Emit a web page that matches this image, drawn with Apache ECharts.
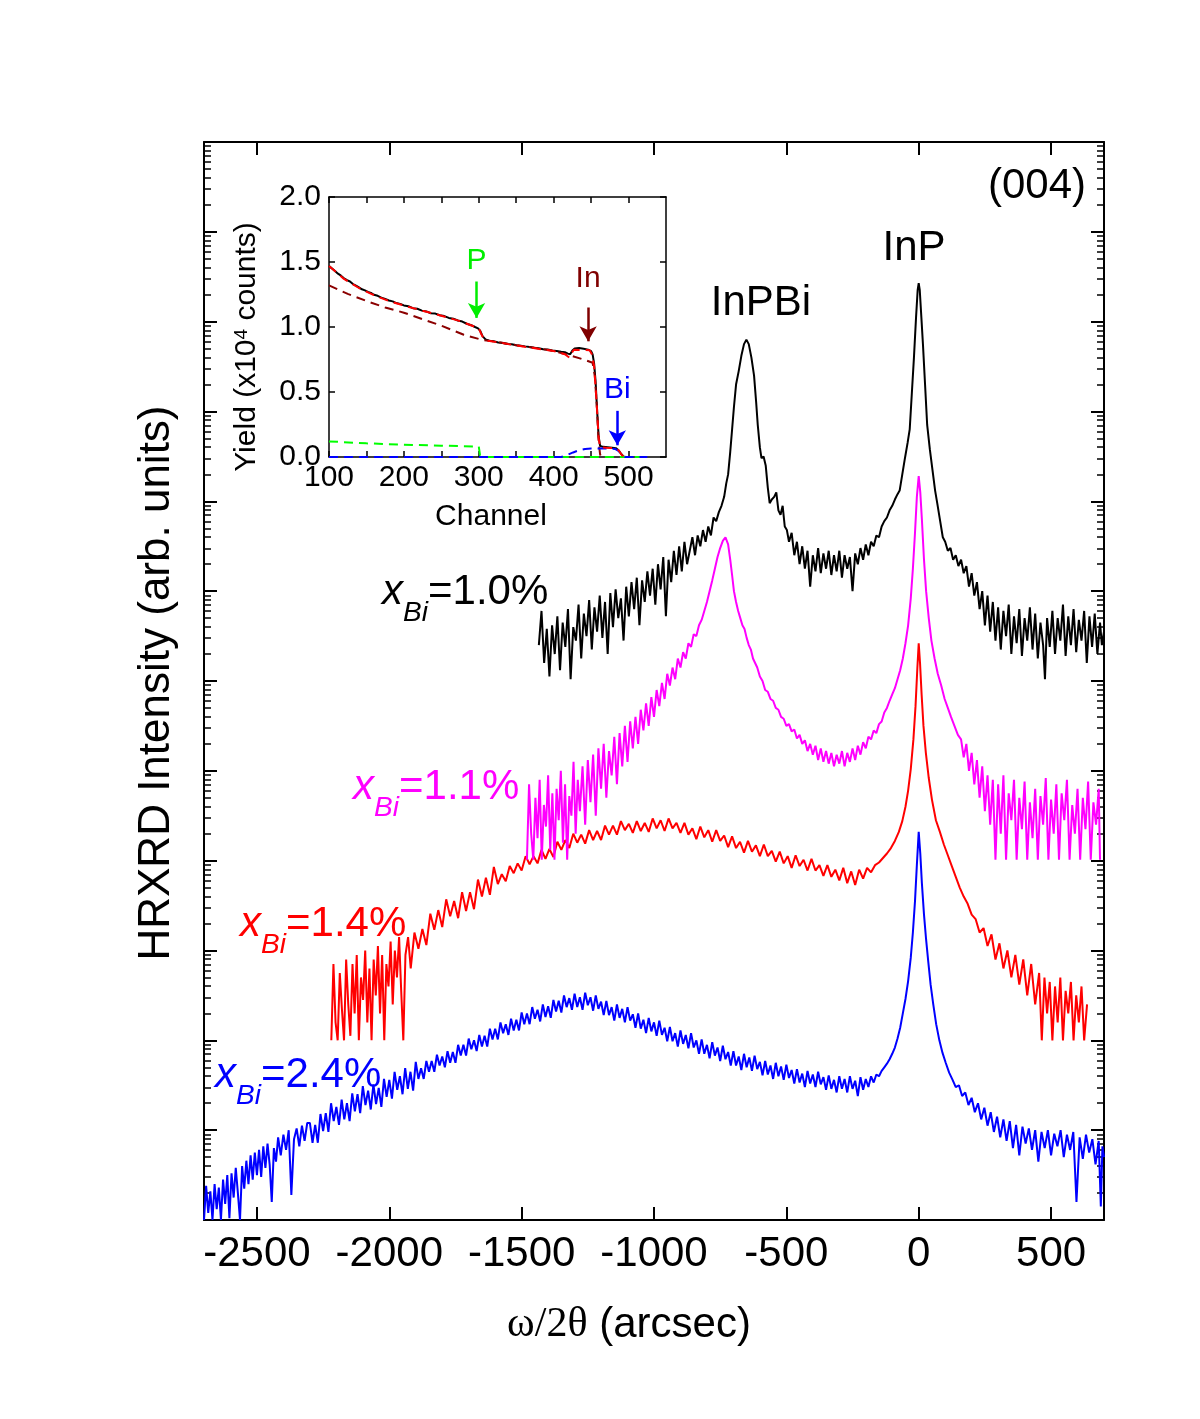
<!DOCTYPE html>
<html>
<head>
<meta charset="utf-8">
<script src="https://cdn.jsdelivr.net/npm/echarts@6/dist/echarts.min.js"></script>
<style>
  html, body { margin: 0; padding: 0; background: #fff; }
  #chart { width: 1200px; height: 1419px; }
</style>
</head>
<body>
<div id="chart"></div>
<script>
// ---- main panel: HRXRD (004) scans, [omega/2theta arcsec, log10 intensity] ----
var xTicks = [-2500, -2000, -1500, -1000, -500, 0, 500];
var decadeTicks = [0, 1, 2, 3, 4, 5, 6, 7, 8, 9, 10, 11, 12];

var scanBi10 = [[-1435,6.40],[-1425,6.78],[-1415,6.20],[-1405,6.58],[-1395,6.05],[-1385,6.62],[-1375,6.30],[-1365,6.72],[-1355,6.12],[-1345,6.65],[-1335,6.38],[-1325,6.80],[-1315,6.02],[-1305,6.60],[-1295,6.45],[-1285,6.85],[-1275,6.25],[-1265,6.75],[-1255,6.50],[-1245,6.90],[-1235,6.35],[-1225,6.82],[-1215,6.55],[-1205,6.95],[-1195,6.48],[-1185,6.88],[-1175,6.30],[-1165,6.98],[-1155,6.60],[-1145,7.02],[-1135,6.70],[-1125,6.92],[-1115,6.45],[-1105,7.05],[-1095,6.72],[-1085,7.10],[-1075,6.80],[-1065,7.15],[-1055,6.62],[-1045,7.12],[-1035,6.88],[-1025,7.22],[-1015,6.95],[-1005,7.25],[-995,6.85],[-985,7.30],[-975,7.02],[-965,7.38],[-955,6.72],[-945,7.35],[-935,7.10],[-925,7.45],[-915,7.18],[-905,7.50],[-895,7.22],[-885,7.55],[-875,7.30],[-865,7.45],[-855,7.60],[-845,7.40],[-835,7.62],[-825,7.50],[-815,7.68],[-805,7.55],[-795,7.72],[-785,7.62],[-775,7.82],[-765,7.78],[-755,7.88],[-745,7.95],[-735,8.05],[-727,8.20],[-720,8.30],[-712,8.55],[-705,8.80],[-698,9.05],[-690,9.30],[-680,9.45],[-670,9.62],[-660,9.75],[-651,9.80],[-642,9.75],[-632,9.60],[-622,9.40],[-614,9.10],[-608,8.85],[-600,8.60],[-594,8.48],[-586,8.50],[-578,8.40],[-570,8.15],[-563,7.98],[-555,8.02],[-546,8.05],[-538,8.10],[-530,7.90],[-522,7.85],[-514,7.95],[-506,7.72],[-498,7.68],[-490,7.55],[-480,7.65],[-470,7.40],[-460,7.55],[-450,7.30],[-440,7.50],[-430,7.25],[-420,7.45],[-410,7.05],[-400,7.40],[-390,7.22],[-380,7.48],[-370,7.20],[-360,7.42],[-350,7.25],[-340,7.45],[-330,7.18],[-320,7.40],[-310,7.22],[-300,7.45],[-290,7.15],[-280,7.40],[-270,7.25],[-260,7.38],[-250,7.00],[-240,7.42],[-230,7.30],[-220,7.48],[-210,7.35],[-200,7.52],[-190,7.40],[-180,7.55],[-170,7.50],[-160,7.62],[-150,7.60],[-140,7.72],[-130,7.78],[-120,7.82],[-110,7.90],[-100,7.95],[-90,8.02],[-80,8.08],[-72,8.12],[-62,8.30],[-52,8.48],[-42,8.65],[-34,8.80],[-26,9.20],[-18,9.60],[-10,10.05],[-4,10.35],[0,10.43],[4,10.35],[10,10.05],[16,9.75],[24,9.30],[32,8.85],[42,8.58],[52,8.35],[62,8.12],[70,7.98],[80,7.80],[91,7.60],[100,7.55],[110,7.45],[120,7.48],[130,7.35],[140,7.40],[150,7.28],[160,7.35],[170,7.20],[180,7.28],[190,7.05],[200,7.20],[210,6.95],[220,7.10],[230,6.80],[240,7.00],[250,6.62],[260,6.95],[270,6.55],[280,6.88],[290,6.45],[300,6.82],[310,6.35],[320,6.78],[330,6.50],[340,6.85],[350,6.30],[360,6.72],[370,6.42],[380,6.80],[390,6.28],[400,6.70],[410,6.45],[420,6.82],[430,6.35],[440,6.75],[450,6.25],[460,6.65],[470,6.40],[477,6.02],[485,6.70],[495,6.38],[505,6.78],[515,6.30],[525,6.70],[535,6.45],[545,6.85],[555,6.28],[565,6.72],[575,6.40],[585,6.80],[595,6.32],[605,6.68],[615,6.45],[625,6.78],[635,6.20],[645,6.72],[655,6.38],[665,6.75],[675,6.30],[685,6.65],[692,6.40],[700,6.55]];

var scanBi11 = [[-1480,4.01],[-1472,4.85],[-1464,4.30],[-1456,4.01],[-1448,4.70],[-1440,4.25],[-1432,4.90],[-1424,4.01],[-1416,4.62],[-1408,4.38],[-1400,4.95],[-1392,4.12],[-1384,4.75],[-1376,4.01],[-1368,4.80],[-1360,4.45],[-1352,5.00],[-1344,4.20],[-1336,4.85],[-1328,4.01],[-1320,4.72],[-1312,4.50],[-1304,5.10],[-1296,4.30],[-1288,4.90],[-1280,4.55],[-1270,5.05],[-1260,4.40],[-1250,5.12],[-1240,4.65],[-1230,5.18],[-1220,4.50],[-1210,5.25],[-1200,4.80],[-1190,5.30],[-1180,4.70],[-1170,5.22],[-1160,4.95],[-1150,5.38],[-1140,4.85],[-1130,5.42],[-1120,5.05],[-1110,5.50],[-1100,5.10],[-1090,5.55],[-1080,5.25],[-1070,5.60],[-1060,5.30],[-1050,5.68],[-1040,5.45],[-1030,5.75],[-1020,5.50],[-1010,5.82],[-1000,5.60],[-990,5.90],[-980,5.72],[-970,5.98],[-960,5.80],[-950,6.08],[-940,5.95],[-930,6.15],[-920,6.02],[-910,6.25],[-900,6.15],[-890,6.32],[-880,6.25],[-870,6.42],[-860,6.38],[-850,6.52],[-840,6.50],[-830,6.62],[-820,6.68],[-810,6.78],[-800,6.88],[-790,7.00],[-780,7.12],[-770,7.25],[-760,7.38],[-750,7.48],[-740,7.56],[-730,7.60],[-720,7.52],[-712,7.35],[-705,7.18],[-698,7.00],[-690,6.88],[-682,6.78],[-674,6.70],[-666,6.62],[-658,6.58],[-650,6.48],[-642,6.40],[-634,6.35],[-626,6.25],[-618,6.20],[-610,6.15],[-600,6.05],[-590,6.00],[-580,5.90],[-570,5.88],[-560,5.80],[-550,5.78],[-540,5.70],[-530,5.68],[-520,5.60],[-510,5.58],[-500,5.50],[-490,5.52],[-480,5.44],[-470,5.46],[-460,5.36],[-450,5.40],[-440,5.30],[-430,5.34],[-420,5.22],[-410,5.30],[-400,5.18],[-390,5.28],[-380,5.12],[-370,5.25],[-360,5.10],[-350,5.22],[-340,5.08],[-330,5.20],[-320,5.05],[-310,5.18],[-300,5.08],[-290,5.22],[-280,5.05],[-270,5.20],[-260,5.10],[-250,5.25],[-240,5.12],[-230,5.28],[-220,5.18],[-210,5.32],[-200,5.25],[-190,5.38],[-180,5.35],[-170,5.45],[-160,5.42],[-150,5.52],[-140,5.55],[-130,5.65],[-120,5.70],[-110,5.78],[-100,5.85],[-90,5.92],[-80,6.02],[-70,6.12],[-60,6.25],[-50,6.42],[-40,6.62],[-30,6.92],[-22,7.25],[-14,7.65],[-7,8.05],[0,8.28],[6,8.10],[12,7.80],[20,7.35],[28,7.00],[38,6.70],[48,6.45],[60,6.25],[72,6.08],[85,5.95],[98,5.80],[110,5.70],[122,5.60],[135,5.50],[148,5.40],[160,5.35],[170,5.15],[180,5.30],[190,5.00],[200,5.20],[210,4.85],[220,5.12],[230,4.70],[240,5.05],[250,4.55],[260,4.95],[270,4.40],[280,4.90],[290,4.01],[300,4.85],[310,4.30],[320,4.95],[330,4.01],[340,4.75],[350,4.45],[360,4.90],[370,4.01],[380,4.70],[390,4.35],[400,4.88],[410,4.01],[420,4.65],[430,4.25],[440,4.80],[450,4.01],[460,4.72],[470,4.40],[480,4.92],[490,4.01],[500,4.68],[510,4.30],[520,4.85],[530,4.01],[540,4.75],[550,4.45],[560,4.90],[570,4.01],[580,4.62],[590,4.30],[600,4.80],[610,4.01],[620,4.70],[630,4.35],[640,4.88],[650,4.01],[660,4.65],[670,4.40],[680,4.80],[685,4.01]];

var scanBi14 = [[-2219,2.00],[-2211,2.85],[-2203,2.20],[-2195,2.00],[-2187,2.75],[-2179,2.35],[-2171,2.00],[-2163,2.90],[-2155,2.40],[-2147,2.05],[-2139,2.85],[-2131,2.30],[-2123,2.95],[-2115,2.00],[-2107,2.70],[-2099,2.45],[-2091,3.00],[-2083,2.20],[-2075,2.80],[-2067,2.00],[-2059,2.90],[-2051,2.50],[-2043,3.05],[-2035,2.30],[-2027,2.95],[-2019,2.00],[-2011,2.85],[-2003,2.60],[-1995,3.10],[-1987,2.40],[-1979,3.00],[-1971,2.70],[-1963,3.15],[-1955,2.55],[-1947,2.00],[-1939,2.95],[-1929,3.15],[-1919,2.80],[-1905,3.20],[-1890,3.02],[-1875,3.24],[-1860,3.06],[-1845,3.41],[-1830,3.23],[-1815,3.45],[-1800,3.26],[-1785,3.57],[-1770,3.38],[-1755,3.55],[-1740,3.36],[-1725,3.65],[-1710,3.44],[-1695,3.65],[-1680,3.46],[-1665,3.79],[-1650,3.60],[-1635,3.81],[-1620,3.62],[-1605,3.93],[-1590,3.74],[-1575,3.85],[-1560,3.77],[-1545,3.94],[-1530,3.86],[-1515,3.97],[-1500,3.89],[-1485,4.05],[-1470,3.96],[-1455,4.05],[-1440,3.97],[-1425,4.12],[-1410,4.02],[-1395,4.13],[-1380,4.04],[-1365,4.21],[-1350,4.12],[-1335,4.23],[-1320,4.14],[-1305,4.30],[-1290,4.20],[-1275,4.29],[-1260,4.19],[-1245,4.34],[-1230,4.23],[-1215,4.33],[-1200,4.23],[-1185,4.39],[-1170,4.29],[-1155,4.39],[-1140,4.29],[-1125,4.44],[-1110,4.34],[-1095,4.41],[-1080,4.31],[-1065,4.44],[-1050,4.33],[-1035,4.42],[-1020,4.32],[-1005,4.47],[-990,4.36],[-975,4.45],[-960,4.33],[-945,4.47],[-930,4.36],[-915,4.42],[-900,4.31],[-885,4.42],[-870,4.29],[-855,4.36],[-840,4.24],[-825,4.38],[-810,4.26],[-795,4.34],[-780,4.21],[-765,4.34],[-750,4.22],[-735,4.28],[-720,4.15],[-705,4.27],[-690,4.14],[-675,4.21],[-660,4.09],[-645,4.22],[-630,4.10],[-615,4.17],[-600,4.05],[-585,4.18],[-570,4.05],[-555,4.11],[-540,3.99],[-525,4.10],[-510,3.97],[-495,4.05],[-480,3.92],[-465,4.06],[-450,3.94],[-435,4.01],[-420,3.89],[-405,4.02],[-390,3.89],[-375,3.95],[-360,3.83],[-345,3.95],[-330,3.82],[-315,3.90],[-300,3.78],[-285,3.92],[-270,3.75],[-255,3.88],[-240,3.73],[-225,3.90],[-210,3.80],[-195,3.92],[-180,3.87],[-165,3.95],[-150,3.98],[-135,4.03],[-120,4.08],[-105,4.14],[-90,4.22],[-75,4.32],[-62,4.44],[-50,4.60],[-40,4.78],[-30,5.02],[-20,5.35],[-12,5.72],[-5,6.15],[0,6.42],[5,6.20],[11,5.85],[18,5.50],[27,5.20],[38,4.92],[50,4.68],[65,4.45],[80,4.32],[95,4.18],[110,4.06],[125,3.94],[140,3.82],[155,3.70],[170,3.60],[185,3.52],[200,3.40],[215,3.35],[230,3.20],[245,3.25],[260,3.05],[275,3.18],[290,2.90],[305,3.08],[320,2.80],[335,3.00],[350,2.70],[365,2.95],[380,2.62],[395,2.90],[410,2.50],[425,2.85],[440,2.40],[455,2.75],[465,2.00],[475,2.70],[485,2.30],[495,2.65],[505,2.00],[515,2.60],[525,2.20],[535,2.70],[545,2.00],[555,2.55],[565,2.30],[575,2.65],[585,2.00],[595,2.50],[605,2.20],[615,2.60],[625,2.00],[636,2.40]];

var scanBi24 = [[-2700,0.00],[-2692,0.38],[-2684,0.08],[-2676,0.32],[-2668,0.00],[-2660,0.40],[-2652,0.12],[-2644,0.36],[-2636,0.00],[-2628,0.45],[-2620,0.18],[-2612,0.50],[-2604,0.02],[-2596,0.52],[-2588,0.25],[-2580,0.58],[-2572,0.30],[-2564,0.00],[-2556,0.60],[-2548,0.35],[-2540,0.66],[-2532,0.40],[-2524,0.72],[-2516,0.45],[-2508,0.75],[-2500,0.50],[-2492,0.78],[-2484,0.48],[-2476,0.82],[-2468,0.58],[-2460,0.85],[-2452,0.62],[-2444,0.20],[-2436,0.80],[-2428,0.65],[-2420,0.92],[-2410,0.72],[-2400,0.95],[-2390,0.78],[-2380,1.00],[-2370,0.28],[-2360,0.90],[-2350,1.02],[-2340,0.82],[-2330,1.05],[-2320,0.88],[-2310,1.08],[-2300,1.08],[-2290,0.86],[-2280,1.06],[-2270,0.86],[-2260,1.18],[-2250,0.99],[-2240,1.19],[-2230,0.98],[-2220,1.30],[-2210,1.10],[-2200,1.26],[-2190,1.06],[-2180,1.34],[-2170,1.12],[-2160,1.30],[-2150,1.10],[-2140,1.41],[-2130,1.21],[-2120,1.40],[-2110,1.19],[-2100,1.49],[-2090,1.28],[-2080,1.44],[-2070,1.23],[-2060,1.51],[-2050,1.29],[-2040,1.47],[-2030,1.26],[-2020,1.57],[-2010,1.37],[-2000,1.56],[-1990,1.35],[-1980,1.65],[-1970,1.45],[-1960,1.60],[-1950,1.40],[-1940,1.69],[-1930,1.46],[-1920,1.65],[-1910,1.44],[-1900,1.76],[-1890,1.57],[-1880,1.69],[-1870,1.57],[-1860,1.77],[-1850,1.65],[-1840,1.77],[-1830,1.65],[-1820,1.84],[-1810,1.72],[-1800,1.82],[-1790,1.70],[-1780,1.88],[-1770,1.75],[-1760,1.87],[-1750,1.75],[-1740,1.95],[-1730,1.83],[-1720,1.95],[-1710,1.83],[-1700,2.02],[-1690,1.90],[-1680,2.00],[-1670,1.88],[-1660,2.06],[-1650,1.93],[-1640,2.05],[-1630,1.93],[-1620,2.13],[-1610,2.01],[-1600,2.13],[-1590,2.01],[-1580,2.20],[-1570,2.08],[-1560,2.18],[-1550,2.06],[-1540,2.24],[-1530,2.11],[-1520,2.23],[-1510,2.11],[-1500,2.31],[-1490,2.18],[-1480,2.30],[-1470,2.18],[-1460,2.37],[-1450,2.24],[-1440,2.34],[-1430,2.21],[-1420,2.40],[-1410,2.26],[-1400,2.38],[-1390,2.25],[-1380,2.45],[-1370,2.32],[-1360,2.44],[-1350,2.31],[-1340,2.50],[-1330,2.37],[-1320,2.47],[-1310,2.34],[-1300,2.52],[-1290,2.37],[-1280,2.48],[-1270,2.34],[-1260,2.53],[-1250,2.39],[-1240,2.48],[-1230,2.33],[-1220,2.50],[-1210,2.35],[-1200,2.43],[-1190,2.28],[-1180,2.44],[-1170,2.28],[-1160,2.37],[-1150,2.22],[-1140,2.40],[-1130,2.25],[-1120,2.35],[-1110,2.20],[-1100,2.37],[-1090,2.22],[-1080,2.29],[-1070,2.14],[-1060,2.30],[-1050,2.13],[-1040,2.23],[-1030,2.08],[-1020,2.25],[-1010,2.10],[-1000,2.20],[-990,2.05],[-980,2.22],[-970,2.06],[-960,2.14],[-950,1.99],[-940,2.15],[-930,1.99],[-920,2.08],[-910,1.93],[-900,2.11],[-890,1.96],[-880,2.06],[-870,1.91],[-860,2.08],[-850,1.92],[-840,2.00],[-830,1.85],[-820,2.01],[-810,1.85],[-800,1.95],[-790,1.80],[-780,1.98],[-770,1.83],[-760,1.92],[-750,1.77],[-740,1.94],[-730,1.79],[-720,1.87],[-710,1.72],[-700,1.88],[-690,1.72],[-680,1.82],[-670,1.67],[-660,1.85],[-650,1.70],[-640,1.81],[-630,1.66],[-620,1.83],[-610,1.68],[-600,1.76],[-590,1.61],[-580,1.77],[-570,1.62],[-560,1.72],[-550,1.57],[-540,1.75],[-530,1.60],[-520,1.71],[-510,1.56],[-500,1.73],[-490,1.58],[-480,1.67],[-470,1.52],[-460,1.68],[-450,1.53],[-440,1.63],[-430,1.48],[-420,1.66],[-410,1.52],[-400,1.62],[-390,1.48],[-380,1.65],[-370,1.51],[-360,1.59],[-350,1.45],[-340,1.61],[-330,1.46],[-320,1.56],[-310,1.42],[-300,1.60],[-290,1.46],[-280,1.57],[-270,1.42],[-260,1.60],[-250,1.46],[-240,1.55],[-230,1.38],[-220,1.59],[-210,1.45],[-200,1.57],[-190,1.48],[-180,1.60],[-170,1.53],[-160,1.62],[-150,1.60],[-140,1.66],[-130,1.70],[-120,1.74],[-110,1.79],[-100,1.85],[-90,1.92],[-80,2.02],[-70,2.14],[-60,2.30],[-50,2.46],[-40,2.66],[-30,2.92],[-22,3.20],[-14,3.55],[-7,3.95],[0,4.32],[6,4.08],[12,3.75],[20,3.40],[28,3.12],[36,2.88],[45,2.62],[55,2.40],[66,2.18],[78,2.00],[90,1.86],[102,1.75],[115,1.64],[128,1.56],[140,1.48],[152,1.50],[164,1.38],[176,1.42],[188,1.28],[200,1.36],[212,1.20],[224,1.30],[236,1.12],[248,1.25],[260,1.05],[272,1.20],[284,0.98],[296,1.15],[308,0.92],[320,1.12],[332,0.88],[344,1.10],[356,0.80],[368,1.06],[380,0.72],[392,1.04],[404,0.85],[416,1.02],[428,0.78],[440,1.00],[452,0.65],[464,0.98],[476,0.80],[488,1.00],[500,0.72],[512,0.96],[524,0.82],[536,1.00],[548,0.70],[560,0.95],[572,0.78],[584,0.98],[596,0.20],[608,0.92],[620,0.68],[632,0.95],[644,0.75],[656,0.90],[668,0.62],[680,0.88],[688,0.15],[694,0.82],[700,0.70]];

var scanLabels = ['=1.0%', '=1.1%', '=1.4%', '=2.4%'];
var scanColors = ['#000000', '#ff00ff', '#ff0000', '#0000ff'];

// ---- inset: RBS spectrum, [channel, yield x1e4] ----
var insetXTicks = [100, 200, 300, 400, 500];
var insetXMinorTicks = [100, 150, 200, 250, 300, 350, 400, 450, 500];

var rbsMeasured = [[100,1.47],[104,1.45],[108,1.43],[112,1.41],[116,1.395],[120,1.375],[124,1.36],[128,1.35],[132,1.33],[136,1.318],[140,1.305],[144,1.29],[148,1.282],[152,1.27],[156,1.262],[160,1.248],[165,1.24],[170,1.226],[175,1.216],[180,1.204],[185,1.197],[190,1.184],[195,1.178],[200,1.166],[206,1.16],[212,1.145],[218,1.14],[224,1.126],[230,1.12],[236,1.106],[242,1.103],[248,1.09],[254,1.084],[260,1.07],[266,1.064],[272,1.05],[278,1.042],[284,1.025],[290,1.014],[295,1.0],[299,0.99],[302,0.97],[305,0.93],[309,0.905],[314,0.895],[320,0.89],[326,0.881],[332,0.877],[338,0.869],[344,0.867],[350,0.859],[356,0.856],[362,0.851],[368,0.847],[374,0.841],[380,0.837],[386,0.829],[392,0.827],[398,0.819],[404,0.816],[410,0.809],[415,0.806],[419,0.795],[422,0.79],[425,0.82],[428,0.835],[434,0.838],[440,0.832],[446,0.826],[450,0.815],[452,0.79],[454,0.72],[456,0.58],[458,0.36],[460,0.16],[462,0.085],[466,0.078],[472,0.075],[478,0.072],[483,0.068],[487,0.05],[490,0.025],[493,0.005],[496,0]];
var rbsFit = [[100,1.47],[120,1.37],[140,1.30],[160,1.245],[180,1.20],[200,1.165],[225,1.125],[250,1.087],[275,1.045],[300,0.99],[303,0.95],[307,0.905],[312,0.895],[350,0.858],[400,0.815],[415,0.79],[421,0.765],[424,0.80],[427,0.825],[448,0.822],[451,0.79],[454,0.70],[457,0.45],[460,0.15],[462,0.075],[470,0.072],[482,0.068],[487,0.05],[491,0.015],[495,0]];
var inFit = [[100,1.32],[125,1.255],[150,1.20],[175,1.15],[200,1.11],[225,1.06],[250,1.01],[280,0.94],[305,0.90],[320,0.89],[350,0.86],[380,0.835],[400,0.815],[420,0.785],[440,0.75],[452,0.725],[455,0.62],[458,0.36],[460,0.12],[462,0.02],[464,0]];
var pFit = [[100,0.12],[150,0.105],[200,0.095],[250,0.087],[300,0.08],[302,0],[525,0]];
var biFit = [[100,0],[410,0],[418,0.015],[426,0.035],[434,0.052],[442,0.062],[450,0.066],[470,0.066],[482,0.062],[487,0.045],[491,0.015],[495,0],[525,0]];

// arrows: channel, top, tip, text
var arrowP = [297, 1.35, 1.07, 'P'];
var arrowIn = [446, 1.15, 0.89, 'In'];
var arrowBi = [485, 0.355, 0.09, 'Bi'];

var minorDecades = [];
for (var n = 0; n < 12; n++) {
  for (var k = 2; k <= 9; k++) minorDecades.push(n + Math.log10(k));
}

var SANS = '"Liberation Sans", Arial, sans-serif';
var SERIF = '"Liberation Serif", "Times New Roman", serif';

var chart = echarts.init(document.getElementById('chart'));

function frameLine(show, w) {
  return { show: show, onZero: false, lineStyle: { color: '#000', width: w } };
}
function ticks(len, w, values) {
  var t = { show: true, inside: true, length: len, lineStyle: { color: '#000', width: w } };
  if (values) t.customValues = values;
  return t;
}
function tickAxis(opt) {
  return Object.assign({
    type: 'value',
    axisLine: frameLine(false, 2),
    axisTick: ticks(13, 2),
    axisLabel: { show: false },
    splitLine: { show: false }
  }, opt);
}

function arrowLine(a, color, dist) {
  return {
    silent: true,
    symbol: ['none', 'arrow'],
    symbolSize: [13, 15],
    lineStyle: { color: color, width: 2.5, type: 'solid' },
    label: { show: true, position: 'start', formatter: a[3], color: color, fontSize: 30, fontFamily: SANS, distance: dist },
    data: [[{ coord: [a[0], a[1]] }, { coord: [a[0], a[2]] }]]
  };
}

function xbiLabel(left, cy, rest, color) {
  return {
    type: 'group', x: left, y: cy,
    children: [
      { type: 'text', x: 0, y: 0, style: { text: 'x', fontSize: 42, fontStyle: 'italic', fontFamily: SANS, fill: color, verticalAlign: 'middle' } },
      { type: 'text', x: 21, y: 21, style: { text: 'Bi', fontSize: 28, fontStyle: 'italic', fontFamily: SANS, fill: color, verticalAlign: 'middle' } },
      { type: 'text', x: 46, y: 0, style: { text: rest, fontSize: 42, fontFamily: SANS, fill: color, verticalAlign: 'middle' } }
    ]
  };
}

var mainLine = function (data, color) {
  return {
    type: 'line', xAxisIndex: 0, yAxisIndex: 0, data: data,
    symbol: 'none', showSymbol: false, lineStyle: { color: color, width: 2 },
    itemStyle: { color: color }, z: 3
  };
};
var insetLine = function (data, color, dashed) {
  return {
    type: 'line', xAxisIndex: 2, yAxisIndex: 4, data: data,
    symbol: 'none', showSymbol: false,
    lineStyle: { color: color, width: 2, type: dashed ? [9, 6] : 'solid' },
    itemStyle: { color: color }, z: 4
  };
};

var inSeries = insetLine(inFit, '#8b0000', true);
inSeries.markLine = arrowLine(arrowIn, '#800000', 14);
var pSeries = insetLine(pFit, '#00ff00', true);
pSeries.markLine = arrowLine(arrowP, '#00ee00', 6);
var biSeries = insetLine(biFit, '#0000ff', true);
biSeries.markLine = arrowLine(arrowBi, '#0000ff', 6);

chart.setOption({
  animation: false,
  backgroundColor: '#ffffff',
  textStyle: { fontFamily: SANS },
  grid: [
    { left: 204, top: 142, width: 900, height: 1078, outerBoundsMode: 'none' },
    { left: 329, top: 197, width: 337, height: 260, outerBoundsMode: 'none' }
  ],
  xAxis: [
    tickAxis({ gridIndex: 0, position: 'bottom', min: -2700, max: 700,
      axisLine: frameLine(true, 2), axisTick: ticks(13, 2, xTicks),
      axisLabel: { show: true, customValues: xTicks, fontSize: 42, color: '#000', margin: 13, fontFamily: SANS,
        formatter: function (v) { return String(v); } } }),
    tickAxis({ gridIndex: 0, position: 'top', min: -2700, max: 700,
      axisLine: frameLine(true, 2), axisTick: ticks(13, 2, xTicks) }),
    tickAxis({ gridIndex: 1, position: 'bottom', min: 100, max: 550,
      axisLine: frameLine(true, 1.5), axisTick: ticks(6, 1.5, insetXMinorTicks),
      axisLabel: { show: true, customValues: insetXTicks, fontSize: 30, color: '#000', margin: 6, fontFamily: SANS,
        formatter: function (v) { return String(v); } } }),
    tickAxis({ gridIndex: 1, position: 'top', min: 100, max: 550,
      axisLine: frameLine(true, 1.5), axisTick: ticks(6, 1.5, insetXMinorTicks) })
  ],
  yAxis: [
    tickAxis({ gridIndex: 0, position: 'left', min: 0, max: 12,
      axisLine: frameLine(true, 2), axisTick: ticks(13, 2, decadeTicks) }),
    tickAxis({ gridIndex: 0, position: 'left', min: 0, max: 12,
      axisTick: ticks(7, 1.5, minorDecades) }),
    tickAxis({ gridIndex: 0, position: 'right', min: 0, max: 12,
      axisLine: frameLine(true, 2), axisTick: ticks(13, 2, decadeTicks) }),
    tickAxis({ gridIndex: 0, position: 'right', min: 0, max: 12,
      axisTick: ticks(7, 1.5, minorDecades) }),
    tickAxis({ gridIndex: 1, position: 'left', min: 0, max: 2, interval: 0.5,
      axisLine: frameLine(true, 1.5), axisTick: ticks(6, 1.5),
      axisLabel: { show: true, fontSize: 30, color: '#000', margin: 8, fontFamily: SANS,
        formatter: function (v) { return v.toFixed(1); } } }),
    tickAxis({ gridIndex: 1, position: 'right', min: 0, max: 2, interval: 0.5,
      axisLine: frameLine(true, 1.5), axisTick: ticks(6, 1.5) })
  ],
  series: [
    mainLine(scanBi24, scanColors[3]),
    mainLine(scanBi14, scanColors[2]),
    mainLine(scanBi11, scanColors[1]),
    mainLine(scanBi10, scanColors[0]),
    insetLine(rbsMeasured, '#000000', false),
    inSeries,
    pSeries,
    biSeries,
    insetLine(rbsFit, '#ff0000', true)
  ],
  graphic: [
    { type: 'text', x: 1037, y: 186, style: { text: '(004)', fontSize: 42, fontFamily: SANS, fill: '#000', align: 'center', verticalAlign: 'middle' } },
    { type: 'text', x: 914, y: 248, style: { text: 'InP', fontSize: 42, fontFamily: SANS, fill: '#000', align: 'center', verticalAlign: 'middle' } },
    { type: 'text', x: 761, y: 303, style: { text: 'InPBi', fontSize: 42, fontFamily: SANS, fill: '#000', align: 'center', verticalAlign: 'middle' } },
    xbiLabel(382, 592, scanLabels[0], scanColors[0]),
    xbiLabel(353, 787, scanLabels[1], scanColors[1]),
    xbiLabel(240, 924, scanLabels[2], scanColors[2]),
    xbiLabel(215, 1075, scanLabels[3], scanColors[3]),
    { type: 'text', x: 629, y: 1325, style: {
        text: '{s|ω/2θ}{n| (arcsec)}', align: 'center', verticalAlign: 'middle', fill: '#000',
        rich: { s: { fontSize: 42, fontFamily: SERIF, fill: '#000' }, n: { fontSize: 42, fontFamily: SANS, fill: '#000' } } } },
    { type: 'text', x: 157, y: 683, rotation: Math.PI / 2, style: {
        text: 'HRXRD Intensity (arb. units)', fontSize: 44, fontFamily: SANS, fill: '#000', align: 'center', verticalAlign: 'middle' } },
    { type: 'text', x: 491, y: 517, style: { text: 'Channel', fontSize: 30, fontFamily: SANS, fill: '#000', align: 'center', verticalAlign: 'middle' } },
    { type: 'text', x: 247, y: 347, rotation: Math.PI / 2, style: {
        text: '{a|Yield (x10}{s|4}{a| counts)}', align: 'center', verticalAlign: 'middle', fill: '#000',
        rich: { a: { fontSize: 30, fontFamily: SANS, fill: '#000' }, s: { fontSize: 19, fontFamily: SANS, fill: '#000', verticalAlign: 'top' } } } }
  ]
});
</script>
</body>
</html>
